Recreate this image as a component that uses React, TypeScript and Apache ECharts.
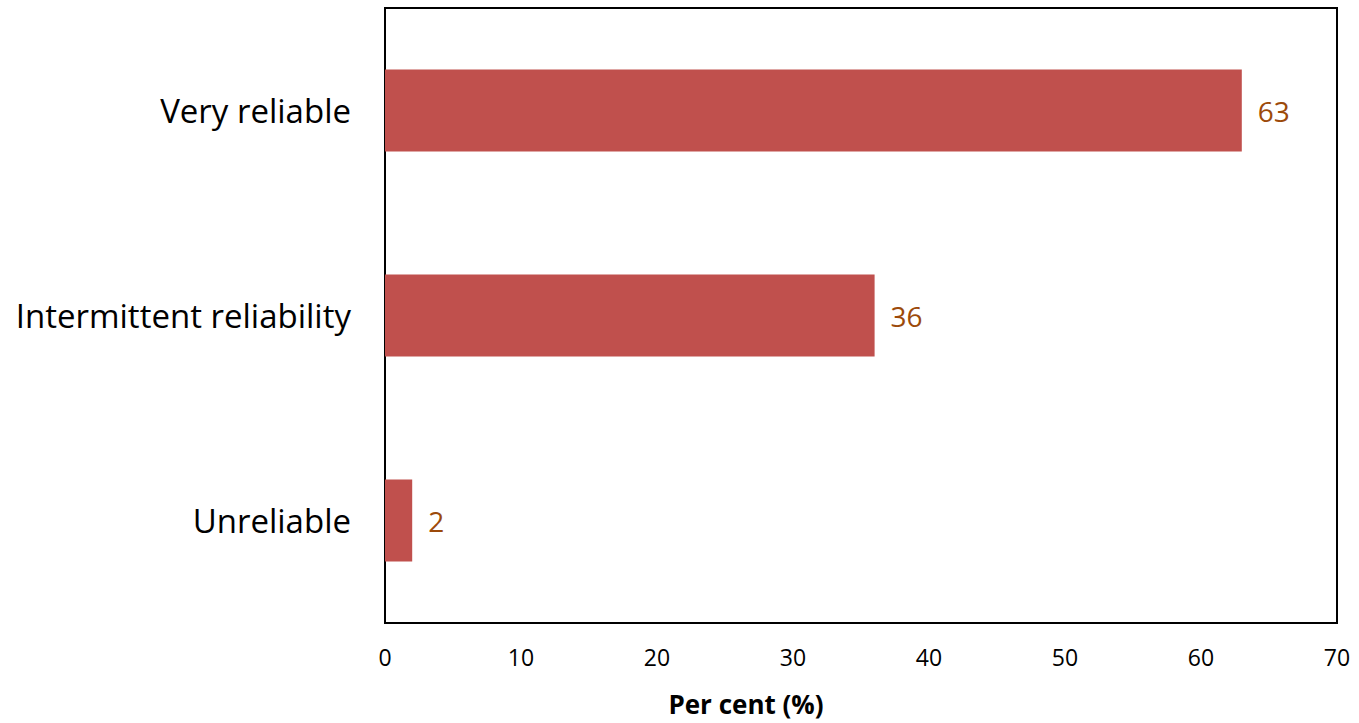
import React, { useEffect, useRef } from "react";
import * as echarts from "echarts";

const categories = ["Unreliable", "Intermittent reliability", "Very reliable"];
const values = [2, 36, 63];
const xMin = 0;
const xMax = 70;
const xInterval = 10;
const axisTitle = "Per cent (%)";

const FONT = "'Open Sans', Lato, sans-serif";

export default function App() {
  const ref = useRef<HTMLDivElement>(null);

  useEffect(() => {
    document.body.style.margin = "0";
    if (!ref.current) return;
    const chart = echarts.init(ref.current, null, { renderer: "svg" });
    chart.setOption({
      animation: false,
      backgroundColor: "#ffffff",
      grid: { left: 385, top: 8, right: 22, bottom: 100, show: true, borderColor: "#000", borderWidth: 2, containLabel: false },
      xAxis: {
        type: "value",
        min: xMin,
        max: xMax,
        interval: xInterval,
        axisLine: { show: false },
        axisTick: { show: false },
        splitLine: { show: false },
        axisLabel: { color: "#000", fontSize: 23, fontFamily: FONT, margin: 22 },
      },
      yAxis: {
        type: "category",
        data: categories,
        axisLine: { show: false },
        axisTick: { show: false },
        axisLabel: { color: "#000", fontSize: 33, fontFamily: FONT, margin: 34 },
      },
      series: [
        {
          type: "bar",
          data: values,
          barWidth: 82,
          itemStyle: { color: "#C0504D" },
          label: {
            show: true,
            position: "right",
            distance: 16,
            color: "#9C4A0A",
            fontSize: 28,
            fontFamily: FONT,
          },
        },
      ],
      graphic: [
        {
          type: "text",
          x: 746,
          y: 704,
          style: {
            text: axisTitle,
            fontSize: 26,
            fontWeight: "bold",
            fontFamily: FONT,
            fill: "#000",
            textAlign: "center",
            textVerticalAlign: "middle",
          },
        },
      ],
    });
    return () => chart.dispose();
  }, []);

  return <div ref={ref} style={{ width: 1359, height: 723 }} />;
}
